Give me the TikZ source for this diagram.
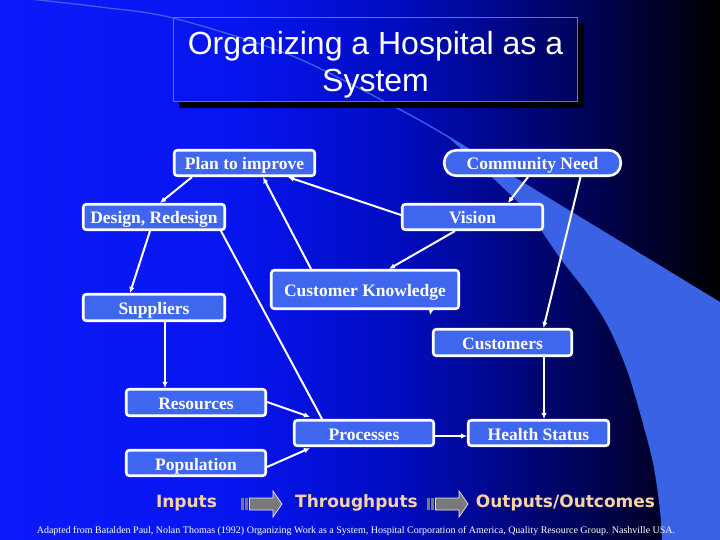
\documentclass[tikz,border=0pt]{standalone}
\usepackage{fontspec}
\setmainfont{Liberation Serif}
\newfontfamily\arialf{Liberation Sans}
\newfontfamily\verdf{DejaVu Sans}
\usetikzlibrary{arrows.meta,calc}
\definecolor{nodeblue}{RGB}{62,102,238}
\definecolor{swooshblue}{RGB}{58,98,228}
\definecolor{peach}{RGB}{248,210,165}
\definecolor{titleline}{RGB}{80,110,255}
\definecolor{bgA}{RGB}{12,26,250}
\definecolor{bgB}{RGB}{6,20,238}
\definecolor{bgC}{RGB}{0,12,190}
\definecolor{bgD}{RGB}{0,6,125}
\definecolor{bgE}{RGB}{0,2,65}
\definecolor{bgF}{RGB}{0,0,12}
\pgfdeclarehorizontalshading{bgshade}{100bp}{color(0bp)=(bgA); color(25bp)=(bgA); color(42bp)=(bgB); color(53bp)=(bgC); color(61bp)=(bgD); color(68bp)=(bgE); color(73.6bp)=(bgF); color(75bp)=(black); color(100bp)=(black)}
\newcommand\blkarrow[1]{%
  \fill[gray!95!black] (#1,498) rectangle ({#1+2.5},510);
  \fill[gray!95!black] ({#1+4},498) rectangle ({#1+7},510);
  \filldraw[fill=gray!95!black, draw=white!85!gray, line width=0.7pt]
    ({#1+8.5},498) -- ({#1+32},498) -- ({#1+32},491) -- ({#1+41},504) -- ({#1+32},517) -- ({#1+32},510) -- ({#1+8.5},510) -- cycle;}
\tikzset{
  box/.style={draw=white, line width=2.6pt, fill=nodeblue, rounded corners=3pt, text=white,
    font=\fontsize{17.5}{20}\selectfont\bfseries, inner sep=0pt, minimum height=25.5pt,
    text height=14pt, text depth=0pt},
  conn/.style={draw=white, line width=2pt, -{Latex[length=6pt,width=5.5pt]}},
  plainconn/.style={draw=white, line width=2pt},
  bottomtext/.style={text=peach, font=\verdf\bfseries\fontsize{17}{20}\selectfont, inner sep=0pt, anchor=base},
}
\begin{document}
\begin{tikzpicture}[x=1pt,y=-1pt]
\useasboundingbox (0,0) rectangle (720,540);
% background
\shade[shading=bgshade] (0,0) rectangle (720,540);
% swoosh
\fill[swooshblue] (447,136) -- (720,302) -- (720,540) -- (662,540)
  -- plot[smooth] coordinates {(662,540) (660,510) (653,463) (640,413) (627,370) (610,330) (590,297) (560,258) (530,215) (495,180) (447,136)} -- cycle;
\draw[swooshblue, line width=1.3pt] plot[smooth] coordinates {(25,-1.5) (100,7) (173,18) (290,55) (397,108) (447,136) (470,150)};
% title
\fill[black] (578,23) -- (584,23) -- (584,108) -- (179,108) -- (179,102) -- (578,102) -- cycle;
\node[draw=titleline, line width=0.8pt, minimum width=404pt, minimum height=84pt, inner sep=0pt] (titlebox) at (375.5,59.5) {};
\node[align=center, text=white, inner sep=0pt, font=\arialf\fontsize{32}{37}\selectfont] (title) at (375.5,64.5)
  {Organizing a Hospital as a\\System};
% nodes
\node[box, minimum width=140.5pt] (plan) at (244.5,163) {Plan to improve};
\node[box, minimum width=176.5pt, rounded corners=12pt] (comm) at (532.5,163) {Community Need};
\node[box, minimum width=141.5pt] (design) at (154,217) {Design, Redesign};
\node[box, minimum width=140.5pt] (vision) at (472.5,217) {Vision};
\node[box, minimum width=187.5pt, minimum height=38.5pt] (ck) at (365,289.5) {Customer Knowledge};
\node[box, minimum width=141.5pt, minimum height=26.5pt] (suppliers) at (154,307.5) {Suppliers};
\node[box, minimum width=138.5pt, minimum height=26.5pt] (customers) at (502.5,342.5) {Customers};
\node[box, minimum width=139.5pt, minimum height=26.5pt] (resources) at (196,402.5) {Resources};
\node[box, minimum width=139.5pt] (processes) at (364,433) {Processes};
\node[box, minimum width=140.5pt] (health) at (538.5,433) {Health Status};
\node[box, minimum width=139.5pt] (population) at (196,463) {Population};
% connectors
\draw[conn] ([xshift=-52.5pt]plan.south) -- ([xshift=6pt]design.north);
\draw[conn] ([xshift=-4pt]design.south) -- ([xshift=-24pt]suppliers.north);
\draw[conn] ([xshift=11pt]suppliers.south) -- ([xshift=-31pt]resources.north);
\draw[plainconn] ([xshift=67pt]design.south) -- ([xshift=-42pt]processes.north);
\draw[conn] ([xshift=-54pt]ck.north) -- ([xshift=18.5pt]plan.south);
\draw[conn] ([yshift=2pt]vision.west) -- ([xshift=43.5pt]plan.south);
\draw[conn] ([xshift=-4.5pt]comm.south) -- ([xshift=35.5pt]vision.north);
\draw[conn] ([xshift=48pt]comm.south) -- ([xshift=41pt]customers.north);
\draw[conn] ([xshift=-17.5pt]vision.south) -- ([xshift=24pt]ck.north);
\coordinate (cktip) at ($(ck.south)+(65,5)$);
\draw[conn] ([xshift=66pt]ck.south) -- (cktip);
\draw[conn] ([xshift=41.5pt]customers.south) -- ([xshift=5.5pt]health.north);
\draw[conn] ([yshift=-3pt]processes.east) -- ([yshift=-3pt]health.west);
\draw[conn] ([yshift=0.5pt]resources.east) -- ([xshift=-54pt,yshift=2pt]processes.north);
\draw[conn] ([yshift=-4pt]population.east) -- ([xshift=-54pt,yshift=-1pt]processes.south);
% bottom row
\node[bottomtext] (inputs) at (186.5,507.5) {Inputs};
\node[bottomtext] (through) at (356.5,507.5) {Throughputs};
\node[bottomtext] (outputs) at (565.5,507.5) {Outputs/Outcomes};
\blkarrow{241}
\blkarrow{427}
\node[anchor=base, text=white, inner sep=0pt, font=\fontsize{10}{11}\selectfont] (note) at (356,533)
  {Adapted from Batalden Paul, Nolan Thomas (1992) Organizing Work as a System, Hospital Corporation of America, Quality Resource Group. Nashville USA.};
\end{tikzpicture}
\end{document}
